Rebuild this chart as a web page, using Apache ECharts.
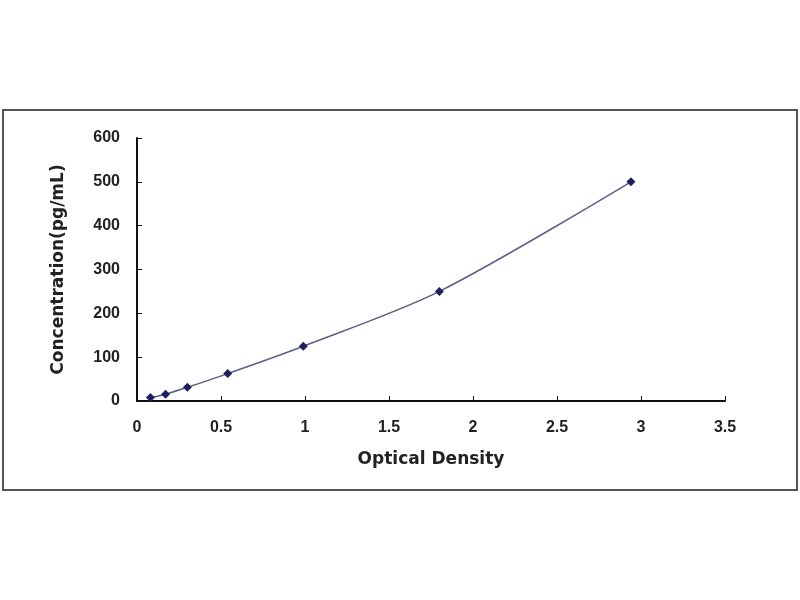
<!DOCTYPE html>
<html>
<head>
<meta charset="utf-8">
<script src="https://cdn.jsdelivr.net/npm/echarts@6/dist/echarts.min.js"></script>
<style>
  html, body { margin: 0; padding: 0; background: #fff; }
  #chart { width: 800px; height: 600px; }
</style>
</head>
<body>
<div id="chart"></div>
<script>
// standard curve: optical density vs concentration
var od = [0.08, 0.17, 0.30, 0.54, 0.99, 1.80, 2.94];
var conc = [7.8, 15.6, 31.2, 62.5, 125, 250, 500];

var points = od.map(function (x, i) { return [x, conc[i]]; });

var chart = echarts.init(document.getElementById('chart'));

var labelFont = { fontFamily: 'Liberation Sans', fontWeight: 'bold', fontSize: 16, color: '#222' };
var nameFont = { fontFamily: 'DejaVu Sans', fontWeight: 'bold', fontSize: 17, color: '#222' };

var option = {
    animation: false,
    backgroundColor: '#fff',
    graphic: [
        {
            type: 'rect',
            shape: { x: 3, y: 110, width: 794, height: 380 },
            style: { fill: 'none', stroke: '#555', lineWidth: 2 },
            z: -1
        }
    ],
    grid: { left: 137, right: 75, top: 138, bottom: 199 },
    xAxis: {
        type: 'value',
        min: 0,
        max: 3.5,
        interval: 0.5,
        name: 'Optical Density',
        nameLocation: 'middle',
        nameGap: 50,
        nameTextStyle: nameFont,
        axisLine: { lineStyle: { color: '#111', width: 2 } },
        axisTick: { inside: true, length: 5, lineStyle: { color: '#111' } },
        axisLabel: Object.assign({ margin: 19 }, labelFont),
        splitLine: { show: false }
    },
    yAxis: {
        type: 'value',
        min: 0,
        max: 600,
        interval: 100,
        name: 'Concentration(pg/mL)',
        nameLocation: 'middle',
        nameGap: 70,
        nameTextStyle: nameFont,
        axisLine: { show: true, lineStyle: { color: '#111', width: 2 } },
        axisTick: { show: true, inside: true, length: 5, lineStyle: { color: '#111' } },
        axisLabel: Object.assign({ margin: 17 }, labelFont),
        splitLine: { show: false }
    },
    series: [
        {
            type: 'line',
            data: points,
            smooth: 0.3,
            symbol: 'diamond',
            symbolSize: 9,
            lineStyle: { color: '#5a6088', width: 1.5 },
            itemStyle: { color: '#1c2060' }
        }
    ]
};

chart.setOption(option);
</script>
</body>
</html>
